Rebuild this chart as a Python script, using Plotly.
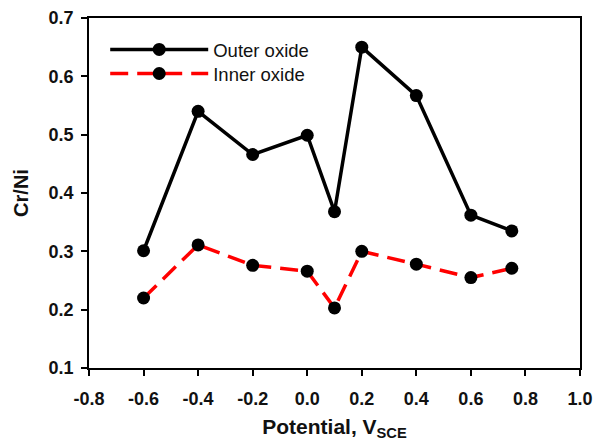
import plotly.graph_objects as go

potential = [-0.6, -0.4, -0.2, 0.0, 0.1, 0.2, 0.4, 0.6, 0.75]
outer_oxide = [0.301, 0.540, 0.466, 0.499, 0.368, 0.650, 0.567, 0.362, 0.335]
inner_oxide = [0.220, 0.311, 0.276, 0.266, 0.203, 0.300, 0.278, 0.255, 0.271]

x_ticks = [-0.8, -0.6, -0.4, -0.2, 0.0, 0.2, 0.4, 0.6, 0.8, 1.0]
y_ticks = [0.1, 0.2, 0.3, 0.4, 0.5, 0.6, 0.7]

fig = go.Figure()
fig.add_trace(go.Scatter(
    x=potential, y=outer_oxide, mode="lines+markers", name="Outer oxide",
    line=dict(color="black", width=3.5),
    marker=dict(color="black", size=13), legend="legend",
))
fig.add_trace(go.Scatter(
    x=potential, y=inner_oxide, mode="lines+markers", name="Inner oxide",
    line=dict(color="#ff0000", width=3.5, dash="18px,9px"),
    marker=dict(color="black", size=13), legend="legend2",
))

fnt = "Arial, Liberation Sans"
leg_common = dict(xanchor="left", yanchor="middle", bgcolor="rgba(0,0,0,0)",
                  font=dict(family=fnt, size=18.5, color="#111111"), itemwidth=98)
fig.update_layout(
    width=595, height=441,
    margin=dict(l=89, r=15, t=18, b=73),
    paper_bgcolor="white", plot_bgcolor="white",
    font=dict(family=fnt, color="#111111"),
    showlegend=True,
    legend=dict(x=0.033, y=0.909, **leg_common),
    legend2=dict(x=0.033, y=0.84, **leg_common),
    xaxis=dict(range=[-0.8, 1.0], tickvals=x_ticks,
               ticktext=[f"<b>{v:.1f}</b>" for v in x_ticks],
               ticks="outside", ticklen=6, tickwidth=1.5, tickcolor="black",
               ticklabelstandoff=8, automargin=False,
               showline=True, linecolor="black", linewidth=1.5, mirror=True,
               showgrid=False, zeroline=False,
               tickfont=dict(family=fnt, size=18, color="#111111"),
               title=dict(text="<b>Potential, V<sub>SCE</sub></b>",
                          font=dict(family=fnt, size=21, color="#111111"))),
    yaxis=dict(range=[0.1, 0.7], tickvals=y_ticks,
               ticktext=[f"<b>{v:.1f}</b>" for v in y_ticks],
               ticks="outside", ticklen=6, tickwidth=1.5, tickcolor="black",
               ticklabelstandoff=4, automargin=False,
               showline=True, linecolor="black", linewidth=1.5, mirror=True,
               showgrid=False, zeroline=False,
               tickfont=dict(family=fnt, size=18, color="#111111"),
               title=dict(text="<b>Cr/Ni</b>", font=dict(family=fnt, size=20, color="#111111"))),
)

fig.write_html("out.html")
